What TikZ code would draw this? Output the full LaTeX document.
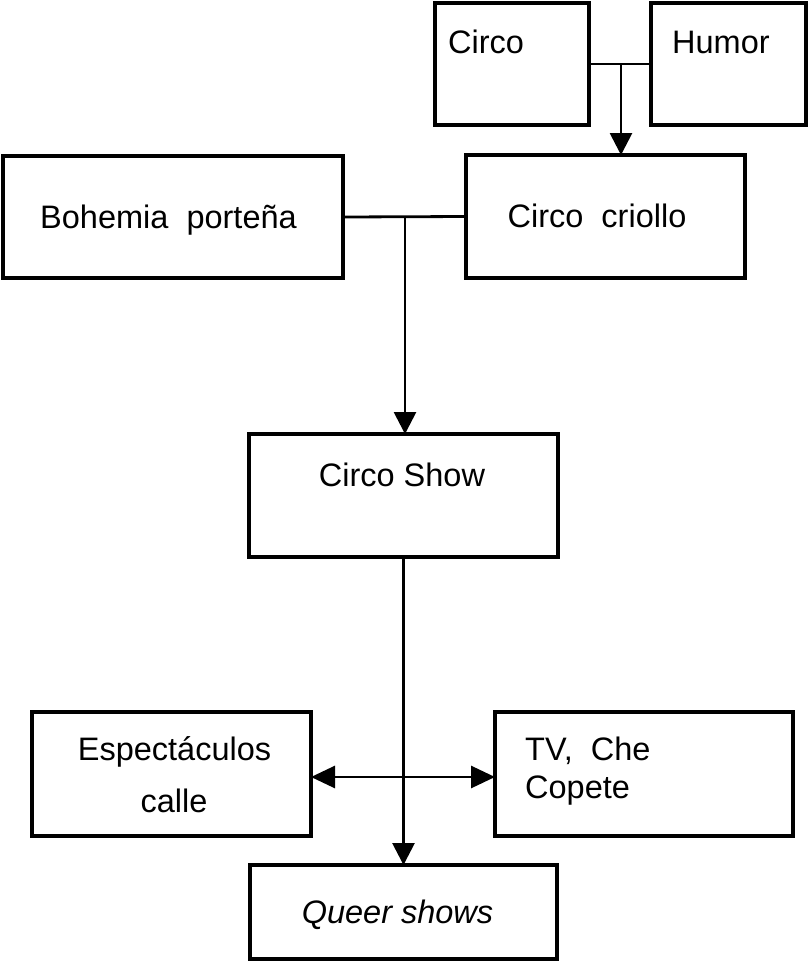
\documentclass[tikz,border=0pt]{standalone}
\usepackage{fontspec}
\setmainfont{Liberation Sans}
\usetikzlibrary{arrows.meta}
\begin{document}
\begin{tikzpicture}[x=1pt,y=-1pt,
  box/.style={draw,line width=3.2pt,rectangle,inner sep=0pt,outer sep=0pt},
  lbl/.style={inner sep=0pt,font=\fontsize{32.5}{38}\selectfont},
  conn/.style={line width=2.8pt},
  arr/.style={conn,-{Triangle[width=22pt,length=22pt]}},
  dbl/.style={conn,{Triangle[width=22pt,length=24pt]}-{Triangle[width=22pt,length=24pt]}}]
\useasboundingbox (0,0) rectangle (809,962);
% boxes
\node[box,minimum width=154pt,minimum height=122pt] (circo) at (512,64) {};
\node[box,minimum width=155pt,minimum height=122pt] (humor) at (728.5,64) {};
\node[box,minimum width=279pt,minimum height=123pt] (criollo) at (605.5,216.5) {};
\node[box,minimum width=340pt,minimum height=122pt] (bohemia) at (173,217) {};
\node[box,minimum width=309pt,minimum height=123pt] (show) at (403.5,495.5) {};
\node[box,minimum width=279pt,minimum height=124pt] (espect) at (171.5,774) {};
\node[box,minimum width=298pt,minimum height=124pt] (tv) at (644,774) {};
\node[box,minimum width=307pt,minimum height=94pt] (queer) at (403.5,912) {};
% texts
\node[lbl,anchor=base west] (tcirco) at (448,53) {Circo};
\node[lbl,anchor=base west] (thumor) at (672,53) {Humor};
\node[lbl,anchor=base] (tcriollo) at (597,227) {Circo~~criollo};
\node[lbl,anchor=base] (tbohemia) at (168.5,228) {Bohemia~~porteña};
\node[lbl,anchor=base] (tshow) at (402,486) {Circo Show};
\node[lbl,anchor=base] (tesp1) at (174.5,760) {Espectáculos};
\node[lbl,anchor=base] (tesp2) at (174,812) {calle};
\node[lbl,anchor=base west] (ttv1) at (525,760) {TV,~~Che};
\node[lbl,anchor=base west] (ttv2) at (525,798) {Copete};
\node[lbl,anchor=base] (tqueer) at (397.5,923) {\itshape Queer shows};
% connectors
\coordinate (j1) at (621,64);
\coordinate (j2) at (405,217);
\draw[conn] (circo.east) -- (humor.west);
\draw[arr] (j1) -- (j1 |- criollo.north);
\draw[conn] (bohemia.east) -- (criollo.west);
\draw[arr] (j2) -- (j2 |- show.north);
\draw[arr] (show.south) -- (queer.north);
\draw[dbl] ([yshift=-3pt]espect.east) -- ([yshift=-3pt]tv.west);
\end{tikzpicture}
\end{document}
